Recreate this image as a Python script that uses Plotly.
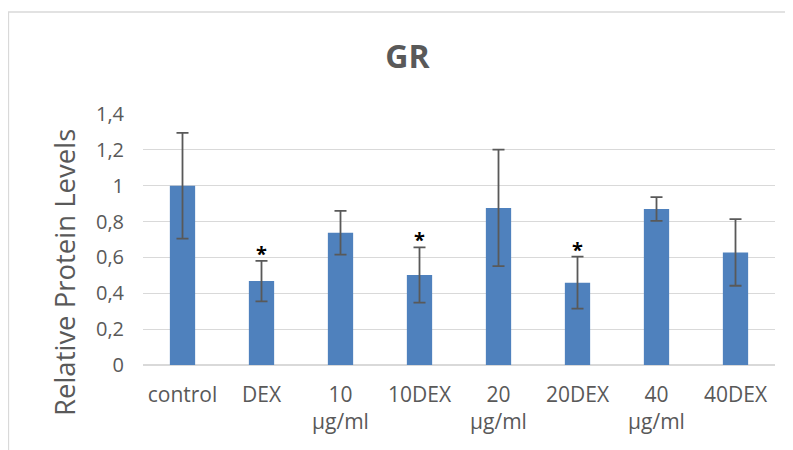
import plotly.graph_objects as go

categories = ["control", "DEX", "10<br>µg/ml", "10DEX", "20<br>µg/ml", "20DEX", "40<br>µg/ml", "40DEX"]
values = [1.00, 0.468, 0.738, 0.502, 0.876, 0.459, 0.870, 0.628]
errors = [0.295, 0.113, 0.122, 0.154, 0.325, 0.145, 0.066, 0.186]
significant = [False, True, False, True, False, True, False, False]
y_ticks = [0, 0.2, 0.4, 0.6, 0.8, 1.0, 1.2, 1.4]

W, H = 793, 450
OFF = 8  # page body margin offset
L, R, T, B = 143 - OFF, 26, 114 - OFF, 450 - (365 - OFF)
pw, ph = W - L - R, H - T - B

def px_x(sx):
    return (sx - OFF - L) / pw

def px_y(sy):
    return (H - B - (sy - OFF)) / ph

FONT = "Open Sans"
GRAY = "#595959"

fig = go.Figure()
fig.add_trace(go.Bar(
    x=categories, y=values,
    marker=dict(color="#4F81BD", line=dict(width=0)),
    error_y=dict(type="data", array=errors, visible=True, color=GRAY, thickness=1.8, width=6),
    hoverinfo="skip",
))

annotations = []
for c, v, e, s in zip(categories, values, errors, significant):
    if s:
        annotations.append(dict(x=c, y=v + e, xref="x", yref="y", text="<b>*</b>", showarrow=False,
                                yanchor="bottom", yshift=-8, font=dict(size=20, color="#000000", family=FONT)))

annotations.append(dict(x=px_x(64), y=px_y(273), xref="paper", yref="paper", text="Relative Protein Levels",
                        textangle=-90, showarrow=False, font=dict(size=27.5, color=GRAY, family=FONT),
                        xanchor="center", yanchor="middle"))

shapes = [
    dict(type="line", xref="paper", yref="paper", x0=px_x(7), x1=px_x(810), y0=px_y(12), y1=px_y(12),
         line=dict(color="#D9D9D9", width=1.3)),
    dict(type="line", xref="paper", yref="paper", x0=px_x(8.5), x1=px_x(8.5), y0=px_y(12), y1=px_y(470),
         line=dict(color="#D9D9D9", width=1.3)),
]

fig.update_layout(
    width=W, height=H,
    margin=dict(l=L, r=R, t=T, b=B, autoexpand=False),
    paper_bgcolor="white", plot_bgcolor="white",
    separators=",.",
    bargap=0.68,
    showlegend=False,
    title=dict(text="<b>GR</b>", x=(407.5 - OFF) / W, xref="container", xanchor="center",
               y=1 - (56.5 - OFF) / H, yref="container", yanchor="middle",
               font=dict(size=32, color=GRAY, family=FONT)),
    font=dict(family=FONT, color=GRAY, size=20),
    annotations=annotations,
    shapes=shapes,
    xaxis=dict(showgrid=False, showline=False, ticks="", tickfont=dict(size=21, color=GRAY, family=FONT),
               ticklabelstandoff=15),
    yaxis=dict(range=[0, 1.4], tickvals=y_ticks, showgrid=True, gridcolor="#D9D9D9", gridwidth=1.3,
               zeroline=True, zerolinecolor="#D9D9D9", zerolinewidth=1.5, showline=False, ticks="",
               tickfont=dict(size=20, color=GRAY, family=FONT), ticklabelstandoff=18),
)

fig.write_html("out.html")
